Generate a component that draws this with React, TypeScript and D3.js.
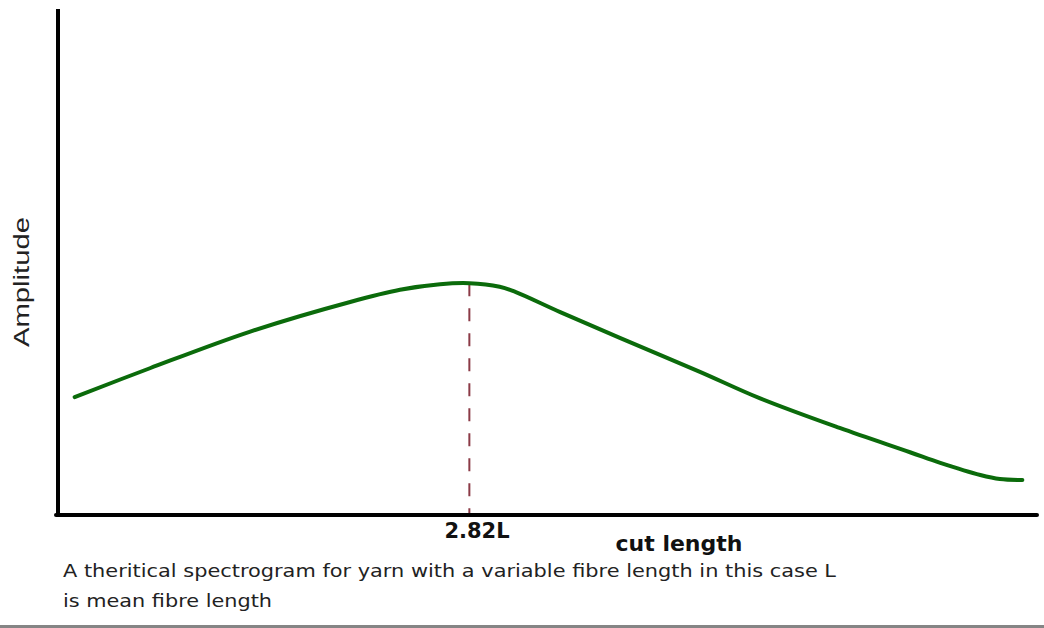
import React from 'react';
import * as d3 from 'd3';

// cut length (arbitrary units, 0-100 along the axis) and amplitude (0-100)
const cutLength = [1.5, 9.2, 19.4, 29.7, 34.8, 38.9, 41.9, 45.0, 46.6, 51.2, 57.3, 65.5, 71.6, 79.8, 87.0, 90.1, 94.2, 96.2, 98.5];
const amplitude = [23.5, 29.2, 36.4, 42.3, 44.7, 45.8, 46.0, 45.3, 44.3, 40.3, 35.2, 28.5, 23.3, 17.4, 12.6, 10.5, 8.1, 7.3, 7.1];
const peakX = 41.9;
const peakLabel = '2.82L';
const xLabel = 'cut length';
const yLabel = 'Amplitude';
const captionLines = [
  'A theritical spectrogram for yarn with a variable fibre length in this case L',
  'is mean fibre length',
];

const width = 1044;
const height = 628;
const x0 = 58;
const x1 = 1037;
const yBase = 515;
const yTop = 9;

const App = () => {
  const x = d3.scaleLinear().domain([0, 100]).range([60, x1]);
  const y = d3.scaleLinear().domain([0, 100]).range([516, 10]);

  const pts: [number, number][] = cutLength.map((c, i) => [c, amplitude[i]]);
  const line = d3.line<[number, number]>()
    .x((d) => x(d[0]))
    .y((d) => y(d[1]))
    .curve(d3.curveCatmullRom.alpha(0.5));

  const peakIdx = cutLength.indexOf(peakX);
  const peakY = y(amplitude[peakIdx]);

  return (
    <svg width={width} height={height} style={{ position: 'absolute', left: 0, top: 0, background: '#fff' }}>
      {/* axes */}
      <line x1={x0} y1={yTop} x2={x0} y2={yBase + 2} stroke="#000" strokeWidth={4} />
      <line x1={x0 - 2} y1={yBase} x2={x1} y2={yBase} stroke="#000" strokeWidth={4} strokeLinecap="round" />

      {/* peak marker */}
      <line x1={x(peakX)} y1={peakY} x2={x(peakX)} y2={yBase - 2} stroke="#8b3a46" strokeWidth={2} strokeDasharray="13 12" />

      {/* curve */}
      <path d={line(pts) || ''} fill="none" stroke="#0b6b0b" strokeWidth={4} strokeLinecap="round" strokeLinejoin="round" />

      {/* labels */}
      <text x={477} y={538} textAnchor="middle" fontFamily="DejaVu Sans" fontWeight="bold" fontSize={21} fill="#111">{peakLabel}</text>
      <text x={679} y={551} textAnchor="middle" fontFamily="DejaVu Sans" fontWeight="bold" fontSize={22} fill="#111">{xLabel}</text>
      <text transform="translate(29,282) rotate(-90)" textAnchor="middle" fontFamily="Liberation Sans" fontSize={22}
        textLength={130} lengthAdjust="spacingAndGlyphs" fill="#222">{yLabel}</text>

      {/* caption */}
      <text x={63} y={577} fontFamily="DejaVu Sans" fontSize={17} fill="#222" textLength={773} lengthAdjust="spacingAndGlyphs">{captionLines[0]}</text>
      <text x={63} y={607} fontFamily="DejaVu Sans" fontSize={17} fill="#222" textLength={209} lengthAdjust="spacingAndGlyphs">{captionLines[1]}</text>

      <rect x={0} y={625} width={width} height={3} fill="#858585" />
    </svg>
  );
};

export default App;
